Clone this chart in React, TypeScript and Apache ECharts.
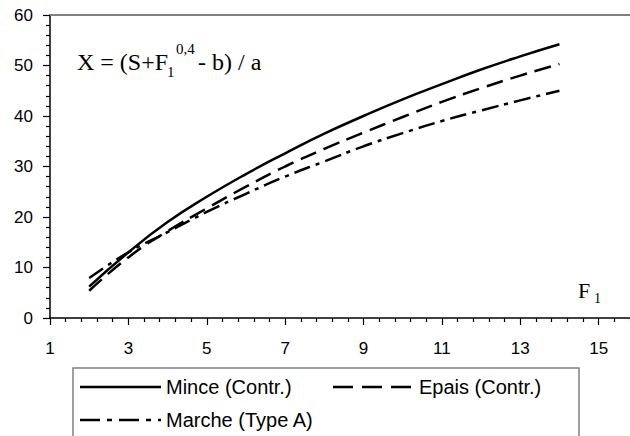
import React, { useEffect, useRef } from "react";
import * as echarts from "echarts";

const xValues = [2, 3, 4, 5, 6, 7, 8, 9, 10, 11, 12, 13, 14];
const minceValues = [6.2, 13, 19, 24, 28.5, 32.6, 36.5, 40, 43.3, 46.3, 49.2, 51.8, 54.2];
const epaisValues = [5.4, 12, 17.2, 21.7, 26, 30, 33.5, 36.7, 39.8, 42.8, 45.5, 48, 50.3];
const marcheValues = [7.9, 13, 17, 21, 24.6, 28, 31, 34, 36.6, 39, 41.1, 43.1, 45];
const seriesNames = ["Mince (Contr.)", "Epais (Contr.)", "Marche (Type A)"];

const SANS = "Arial, 'Liberation Sans', sans-serif";
const SERIF = "'Times New Roman', 'Liberation Serif', serif";

export default function App() {
  const ref = useRef<HTMLDivElement>(null);
  useEffect(() => {
    if (!ref.current) return;
    const chart = echarts.init(ref.current, undefined, { renderer: "svg" });
    const toPairs = (vals: number[]) => xValues.map((x, i) => [x, vals[i]]);
    const dashA = [17, 8];
    const dashB = [17, 6, 4, 6];
    chart.setOption({
      animation: false,
      backgroundColor: "#ffffff",
      grid: { left: 50, top: 15, right: 3, bottom: 118, containLabel: false },
      xAxis: [
        {
          type: "value",
          min: 1,
          max: 17,
          interval: 2,
          axisLine: { show: true, onZero: false, lineStyle: { color: "#000", width: 1.5 } },
          axisTick: { show: true, length: 7, lineStyle: { color: "#000", width: 1.2 } },
          minorTick: { show: true, splitNumber: 5, length: 4, lineStyle: { color: "#000", width: 1.2 } },
          axisLabel: {
            color: "#000",
            fontSize: 17,
            fontFamily: SANS,
            margin: 22,
            showMaxLabel: false,
            formatter: (v: number) => (v > 15 ? "" : String(v)),
          },
          splitLine: { show: false },
        },
        {
          type: "value",
          position: "top",
          min: 1,
          max: 17,
          axisLine: { show: true, onZero: false, lineStyle: { color: "#808080", width: 2 } },
          axisTick: { show: false },
          axisLabel: { show: false },
          splitLine: { show: false },
        },
      ],
      yAxis: {
        type: "value",
        min: 0,
        max: 60,
        interval: 10,
        axisLine: { show: true, lineStyle: { color: "#000", width: 1.5 } },
        axisTick: { show: true, length: 7, lineStyle: { color: "#000", width: 1.2 } },
        minorTick: { show: true, splitNumber: 5, length: 4, lineStyle: { color: "#000", width: 1.2 } },
        axisLabel: { color: "#000", fontSize: 17, fontFamily: SANS, margin: 17 },
        splitLine: { show: false },
      },
      series: [
        {
          name: seriesNames[0],
          type: "line",
          smooth: true,
          symbol: "none",
          data: toPairs(minceValues),
          lineStyle: { color: "#000", width: 2.5, type: "solid" },
        },
        {
          name: seriesNames[1],
          type: "line",
          smooth: true,
          symbol: "none",
          data: toPairs(epaisValues),
          lineStyle: { color: "#000", width: 2.5, type: dashA },
        },
        {
          name: seriesNames[2],
          type: "line",
          smooth: true,
          symbol: "none",
          data: toPairs(marcheValues),
          lineStyle: { color: "#000", width: 2.5, type: dashB },
        },
      ],
      graphic: [
        { type: "text", left: 77, top: 50, style: { text: "X = (S+F", font: `24px ${SERIF}`, fill: "#000" } },
        { type: "text", left: 167, top: 64, style: { text: "1", font: `15px ${SERIF}`, fill: "#000" } },
        { type: "text", left: 176, top: 41, style: { text: "0,4", font: `15px ${SERIF}`, fill: "#000" } },
        { type: "text", left: 198, top: 50, style: { text: "- b) / a", font: `24px ${SERIF}`, fill: "#000" } },
        { type: "text", left: 578, top: 279, style: { text: "F", font: `22px ${SERIF}`, fill: "#000" } },
        { type: "text", left: 594, top: 291, style: { text: "1", font: `14px ${SERIF}`, fill: "#000" } },
        {
          type: "rect",
          shape: { x: 73, y: 368, width: 506, height: 100 },
          style: { fill: "#fff", stroke: "#808080", lineWidth: 1.5 },
          z: 10,
        },
        { type: "line", shape: { x1: 80, y1: 387, x2: 161, y2: 387 }, style: { stroke: "#000", lineWidth: 2.5 }, z: 11 },
        { type: "text", x: 166, y: 387, style: { text: seriesNames[0], font: `20px ${SANS}`, fill: "#000", verticalAlign: "middle" }, z: 11 },
        { type: "line", shape: { x1: 333, y1: 387, x2: 411, y2: 387 }, style: { stroke: "#000", lineWidth: 2.5, lineDash: [20, 9] }, z: 11 },
        { type: "text", x: 419, y: 387, style: { text: seriesNames[1], font: `20px ${SANS}`, fill: "#000", verticalAlign: "middle" }, z: 11 },
        { type: "line", shape: { x1: 80, y1: 420, x2: 161, y2: 420 }, style: { stroke: "#000", lineWidth: 2.5, lineDash: [20, 7, 5, 7] }, z: 11 },
        { type: "text", x: 166, y: 420, style: { text: seriesNames[2], font: `20px ${SANS}`, fill: "#000", verticalAlign: "middle" }, z: 11 },
      ],
    });
    return () => chart.dispose();
  }, []);
  return (
    <div style={{ position: "fixed", left: 0, top: 0, width: 630, height: 436, overflow: "hidden", background: "#fff" }}>
      <div ref={ref} style={{ width: 680, height: 436 }} />
    </div>
  );
}
